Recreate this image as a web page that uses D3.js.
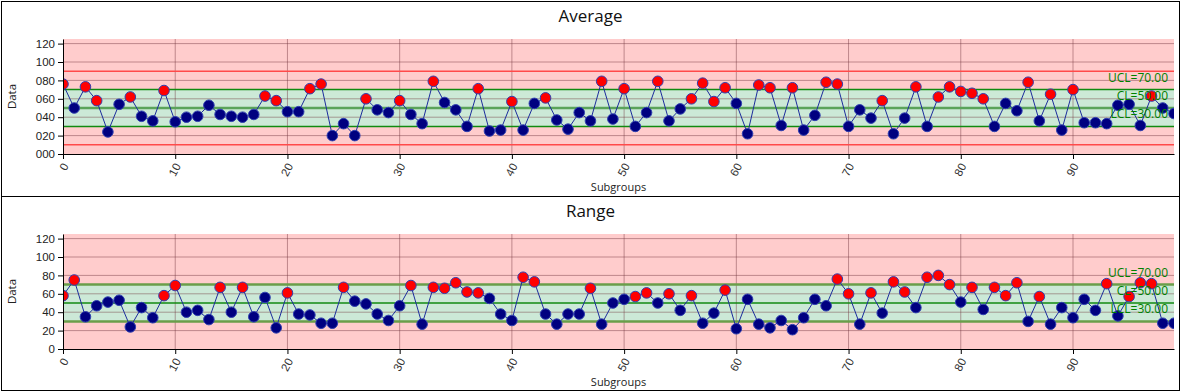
<!DOCTYPE html>
<html>
<head>
<meta charset="utf-8">
<script src="https://cdn.jsdelivr.net/npm/d3@7"></script>
<style>
body { margin: 0; background: #fff; }
svg { display: block; font-family: "Open Sans", "Noto Sans", sans-serif; }
</style>
</head>
<body>
<svg id="chart"></svg>
<script>
//------ Données ------
const subgroups = d3.range(100)
const averageValues = [76,50,73,58,24,54,62,41,36,69, 35,40,41,53,43,41,40,43,63,58,
    46,46,71,76,20,33,20,60,48,45, 58,43,33,79,56,48,30,71,25,26,
    57,26,55,61,37,27,45,36,79,38, 71,30,45,79,36,49,60,77,57,72,
    55,22,75,72,31,72,26,42,78,76, 30,48,39,58,22,39,73,30,62,73,
    68,66,60,30,55,47,78,36,65,26, 70,34,34,33,53,54,31,63,50,44]
const rangeValues = [58,75,35,47,51,53,24,45,34,58, 69,40,42,32,67,40,67,35,56,23,
    61,38,37,28,28,67,52,49,38,31, 47,69,27,67,66,72,62,61,55,38,
    31,78,73,38,27,38,38,66,27,50, 54,57,61,50,60,42,58,28,39,64,
    22,54,27,23,31,21,34,54,47,76, 60,27,61,39,73,62,45,78,80,70,
    51,67,43,67,58,72,30,57,27,45, 34,54,42,71,36,57,72,71,28,28]
// limites de contrôle
const controlLimits = [70, 50, 30]          // UCL, CL, LCL
const controlNames = ["UCL", "CL", "LCL"]
const specLimits = [90, 10]                 // seulement sur la moyenne
const yTicks = [0, 20, 40, 60, 80, 100, 120]
const xTicks = [0, 10, 20, 30, 40, 50, 60, 70, 80, 90]

//taille du cadre
var width = 1181,
    height = 392

var svg = d3.select("#chart")
    .attr("width", width)
    .attr("height", height)

// échelles communes
var x = d3.scaleLinear().domain([0, 99]).range([63, 1174])

//------ dessine un panneau ------
function drawPanel(top, h, title, values, fmt, specs, id) {
    var g = svg.append("g").attr("transform", `translate(0,${top})`)
    var y = d3.scaleLinear().domain([0, 125]).range([154, 39])
    var ucl = controlLimits[0], cl = controlLimits[1], lcl = controlLimits[2]
    var redLimit = cl + (ucl - cl) / 3   // zone au dessus de +1 sigma

    // cadre
    g.append("rect")
        .attr("x", 1.5).attr("y", 1.5)
        .attr("width", width - 3).attr("height", h)
        .attr("fill", "none").attr("stroke", "#000")

    // titre
    g.append("text")
        .attr("x", width / 2).attr("y", 22)
        .attr("text-anchor", "middle")
        .attr("font-size", 17).attr("fill", "#111")
        .text(title)

    // clip (dans le repère du groupe)
    svg.append("clipPath").attr("id", "clip" + id)
        .append("rect")
        .attr("x", x.range()[0]).attr("y", 39)
        .attr("width", x.range()[1] - x.range()[0]).attr("height", 115)
    var plot = g.append("g").attr("clip-path", `url(#clip${id})`)

    // fond rose et bande verte
    plot.append("rect")
        .attr("x", x.range()[0]).attr("y", y.range()[1])
        .attr("width", x.range()[1] - x.range()[0]).attr("height", y.range()[0] - y.range()[1])
        .attr("fill", "#ffcccc")
    plot.append("rect")
        .attr("x", x.range()[0]).attr("y", y(ucl))
        .attr("width", x.range()[1] - x.range()[0]).attr("height", y(lcl) - y(ucl))
        .attr("fill", "#cce9d7")

    // grille
    plot.selectAll(".hgrid").data(yTicks.slice(1)).enter().append("line")
        .attr("x1", x.range()[0]).attr("x2", x.range()[1])
        .attr("y1", d => y(d)).attr("y2", d => y(d))
        .attr("stroke", "rgba(110,50,60,0.45)").attr("stroke-width", 1)
    plot.selectAll(".vgrid").data(xTicks.slice(1)).enter().append("line")
        .attr("x1", d => x(d)).attr("x2", d => x(d))
        .attr("y1", y.range()[1]).attr("y2", y.range()[0])
        .attr("stroke", "rgba(110,50,60,0.45)").attr("stroke-width", 1)

    // limites de spécification
    plot.selectAll(".spec").data(specs).enter().append("line")
        .attr("x1", x.range()[0]).attr("x2", x.range()[1])
        .attr("y1", d => y(d)).attr("y2", d => y(d))
        .attr("stroke", "#ff4a4a").attr("stroke-width", 1.5)

    // limites de contrôle
    plot.selectAll(".ctrl").data(controlLimits).enter().append("line")
        .attr("x1", x.range()[0]).attr("x2", x.range()[1])
        .attr("y1", d => y(d)).attr("y2", d => y(d))
        .attr("stroke", (d, i) => i == 1 ? (id == 1 ? "#5aa35a" : "#128a12") : (id == 1 ? "#108a10" : "#6a9e4a"))
        .attr("stroke-width", (d, i) => (i == 1) == (id == 1) ? 2.5 : 1.5)

    // textes des limites
    g.selectAll(".ctrl-label").data(controlLimits).enter().append("text")
        .attr("x", 1168).attr("y", d => y(d) - 8)
        .attr("text-anchor", "end")
        .attr("font-size", 12).attr("fill", "#008000")
        .text((d, i) => controlNames[i] + "=" + d.toFixed(2))

    // ligne de données
    var line = d3.line().x((d, i) => x(subgroups[i])).y(d => y(d))
    plot.append("path")
        .datum(values)
        .attr("d", line)
        .attr("fill", "none")
        .attr("stroke", "#1c2c9c").attr("stroke-width", 1)

    // points
    plot.selectAll(".pt").data(values).enter().append("circle")
        .attr("cx", (d, i) => x(subgroups[i]))
        .attr("cy", d => y(d))
        .attr("r", 5.3)
        .attr("fill", d => d > redLimit ? "#ff0000" : "#000080")
        .attr("stroke", "#3040b0").attr("stroke-width", 1)

    // axes
    var yAxis = g.append("g")
        .attr("transform", `translate(${x.range()[0]},0)`)
        .call(d3.axisLeft(y).tickValues(yTicks).tickSize(5).tickSizeOuter(0).tickFormat(fmt))
    var xAxis = g.append("g")
        .attr("transform", `translate(0,${y.range()[0]})`)
        .call(d3.axisBottom(x).tickValues(xTicks).tickSize(5).tickSizeOuter(0).tickFormat(d3.format("d")))
    yAxis.selectAll("text").attr("font-size", 11.5).attr("fill", "#222").attr("x", -8)
    xAxis.selectAll("text")
        .attr("font-size", 11.5).attr("fill", "#333")
        .attr("x", 0).attr("y", 0).attr("dy", "0.35em")
        .attr("text-anchor", "end")
        .attr("transform", "translate(2,10) rotate(-62)")
    g.selectAll(".domain").attr("stroke", "#000")
    g.selectAll(".tick line").attr("stroke", "#000")

    // titres des axes
    g.append("text")
        .attr("transform", `translate(16,${(y.range()[0] + y.range()[1]) / 2}) rotate(-90)`)
        .attr("text-anchor", "middle")
        .attr("font-size", 11.5).attr("fill", "#222")
        .text("Data")
    g.append("text")
        .attr("x", (x.range()[0] + x.range()[1]) / 2).attr("y", 191)
        .attr("text-anchor", "middle")
        .attr("font-size", 11).attr("fill", "#222")
        .text("Subgroups")
}

drawPanel(0, 195, "Average", averageValues, d3.format("03d"), specLimits, 1)
drawPanel(195, 194, "Range", rangeValues, d3.format("d"), [], 2)
</script>
</body>
</html>
